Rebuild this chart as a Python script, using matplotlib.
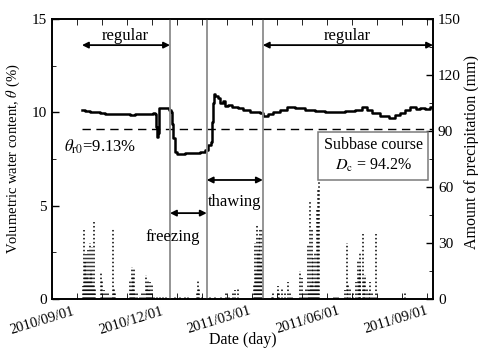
import matplotlib
matplotlib.use("Agg")
import matplotlib.pyplot as plt
import numpy as np

plt.rcParams['font.family'] = ['Liberation Serif', 'DejaVu Serif']
plt.rcParams['mathtext.fontset'] = 'stix'

# ---- data (x = days since 2010/09/01) ----
theta_day = [7, 10, 15, 21, 26, 31, 36, 41, 46, 52, 57, 62, 67, 72, 77, 80, 82, 84, 85, 86,
             87, 90, 93, 97, 99, 100, 101, 103, 105, 108, 114, 119, 124, 129, 132, 134, 137,
             140, 141, 142, 143, 145, 148, 150, 153, 155, 158, 162, 168, 174, 181, 186, 191,
             194, 199, 205, 212, 219, 227, 238, 248, 258, 269, 279, 289, 297, 302, 307, 315,
             324, 331, 336, 341, 346, 352, 357, 362, 367, 370]
theta_val = [10.10, 10.05, 10.00, 10.02, 9.95, 9.93, 9.90, 9.93, 9.90, 9.90, 9.87, 9.90, 9.90,
             9.93, 9.90, 9.95, 9.90, 9.20, 8.70, 8.90, 10.25, 10.25, 10.22, 10.15, 10.00, 9.40,
             8.60, 7.90, 7.75, 7.78, 7.82, 7.80, 7.82, 7.85, 7.90, 8.00, 8.25, 8.40, 9.50,
             10.50, 11.00, 10.85, 10.75, 10.50, 10.60, 10.35, 10.40, 10.30, 10.22, 10.15,
             10.00, 10.00, 9.95, 9.82, 9.90, 10.00, 10.12, 10.28, 10.22, 10.13, 10.07, 10.00,
             10.00, 10.05, 10.10, 10.28, 10.10, 9.95, 9.82, 9.72, 9.85, 9.95, 10.15, 10.28,
             10.18, 10.25, 10.20, 10.30, 10.25]

rain_day = [8, 9, 10, 11, 12, 13, 14, 15, 16, 17, 18, 19, 20, 27, 28, 30, 32, 34, 36, 38, 39,
            40, 41, 57, 58, 59, 60, 61, 62, 64, 67, 69, 71, 73, 74, 75, 76, 77, 78, 79, 81, 85,
            88, 91, 94, 103, 108, 114, 117, 126, 127, 128, 131, 139, 145, 151, 156, 159, 163,
            165, 168, 185, 186, 187, 188, 189, 190, 191, 192, 193, 203, 205, 210, 211, 214,
            217, 220, 222, 224, 232, 235, 237, 239, 241, 242, 243, 244, 245, 246, 247, 248,
            249, 250, 251, 252, 268, 270, 272, 279, 281, 282, 284, 287, 290, 292, 293, 294,
            295, 298, 299, 300, 302, 304, 305, 307, 309, 311, 341]
rain_mm = [7, 37, 20, 24, 12, 26, 10, 30, 15, 28, 8, 42, 6, 14, 10, 5, 4, 3, 2, 2, 38, 6, 4,
           10, 5, 17, 12, 16, 4, 3, 2, 3, 4, 13, 7, 10, 5, 9, 3, 8, 2, 1, 1, 1, 1, 1, 1, 1, 2,
           4, 10, 6, 1, 1, 1, 2, 3, 2, 4, 5, 6, 8, 30, 14, 40, 25, 33, 38, 20, 38, 2, 3, 7, 4,
           6, 3, 9, 3, 2, 15, 11, 4, 6, 29, 5, 52, 8, 38, 22, 6, 25, 10, 49, 59, 64, 1, 1, 1,
           5, 30, 8, 6, 4, 9, 21, 12, 25, 16, 35, 10, 13, 6, 4, 9, 4, 2, 35, 4]

theta_r0 = 9.13
phase_bounds = [98, 136, 194]          # freezing start, thawing start, regular start
date_ticks = [-3, 89, 179, 271, 363]
date_labels = ['2010/09/01', '2010/12/01', '2011/03/01', '2011/06/01', '2011/09/01']
x_min, x_max = -24, 370

fig = plt.figure(figsize=(4.78, 3.49), dpi=100)
ax = fig.add_axes([0.1088, 0.1433, 0.7971, 0.8023])
ax2 = ax.twinx()

# precipitation (dotted columns)
ax2.vlines(rain_day, 0, rain_mm, colors='black', linestyles=(0, (1, 1.6)), linewidth=1.1)
ax2.set_ylim(0, 150)
ax2.set_yticks(np.arange(0, 151, 30))
ax2.set_yticks(np.arange(0, 151, 15), minor=True)

# water content
ax.set_zorder(ax2.get_zorder() + 1)
ax.patch.set_visible(False)
ax.plot(theta_day, theta_val, color='black', linewidth=1.8, drawstyle='steps-post')
ax.hlines(theta_r0, 7, x_max, colors='black', linestyles=(0, (6, 4)), linewidth=1.0)
for b in phase_bounds:
    ax.axvline(b, color='#8c8c8c', linewidth=1.3)

ax.set_xlim(x_min, x_max)
ax.set_ylim(0, 15)
ax.set_yticks([0, 5, 10, 15])
ax.set_yticks(np.arange(0, 15.1, 2.5), minor=True)
ax.set_xticks(date_ticks)
ax.set_xticklabels(date_labels, rotation=17, ha='right', rotation_mode='anchor')
ax.set_xticks(np.arange(x_min, x_max, 25.85), minor=True)

ax.tick_params(axis='x', which='major', length=0, pad=4, labelsize=10.5)
ax.tick_params(axis='x', which='minor', direction='in', length=4, top=True, bottom=True)
ax.tick_params(axis='y', which='major', direction='in', length=5, labelsize=11, width=1)
ax.tick_params(axis='y', which='minor', direction='in', length=3)
ax2.tick_params(axis='y', which='major', direction='in', length=5, labelsize=11, width=1)
ax2.tick_params(axis='y', which='minor', direction='in', length=3)
for a in (ax, ax2):
    for s in a.spines.values():
        s.set_linewidth(1.2)

ax.set_ylabel(r'Volumetric water content, $\theta$ (%)', fontsize=10.5)
ax.yaxis.set_label_coords(-0.078, 0.5)
ax2.set_ylabel('Amount of precipitation (mm)', fontsize=11.5)
ax2.yaxis.set_label_coords(1.08, 0.525)
ax.set_xlabel('Date (day)', fontsize=11.5)
ax.xaxis.set_label_coords(0.5, -0.118)

# phase annotations
arrow_kw = dict(arrowstyle='<|-|>', color='black', lw=1.3, mutation_scale=9,
                shrinkA=0, shrinkB=0)
ax.annotate('', xy=(7, 13.6), xytext=(98, 13.6), arrowprops=arrow_kw)
ax.annotate('', xy=(194, 13.6), xytext=(370, 13.6), arrowprops=arrow_kw)
ax.annotate('', xy=(98, 4.6), xytext=(136, 4.6), arrowprops=arrow_kw)
ax.annotate('', xy=(136, 6.375), xytext=(194, 6.375), arrowprops=arrow_kw)
ax.text(51.5, 14.1, 'regular', ha='center', va='center', fontsize=12)
ax.text(281, 14.1, 'regular', ha='center', va='center', fontsize=12)
ax.text(101, 3.3, 'freezing', ha='center', va='center', fontsize=12)
ax.text(165, 5.2, 'thawing', ha='center', va='center', fontsize=12)
ax.text(25.6, 8.15, r'$\theta_{\rm r0}$=9.13%', ha='center', va='center', fontsize=12)
ax.text(308, 7.68, 'Subbase course\n' + r'$D_{\rm c}$ = 94.2%', ha='center', va='center',
        fontsize=11.5, linespacing=1.3,
        bbox=dict(boxstyle='square,pad=0.35', facecolor='white', edgecolor='#7a7a7a', lw=1.1))

fig.savefig('out.png', dpi=100)
